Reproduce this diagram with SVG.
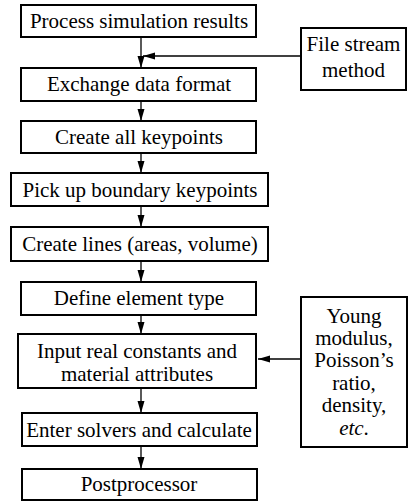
<svg xmlns="http://www.w3.org/2000/svg" width="411" height="502" viewBox="0 0 411 502">
<style>
.box{fill:#fff;stroke:#000;stroke-width:2}
.t{font-family:"Liberation Serif","Times New Roman",serif;font-size:21px;fill:#000;text-anchor:middle}
.c{stroke:#000;stroke-width:1.3;fill:none}
</style>
<defs>
<marker id="ah" markerUnits="userSpaceOnUse" markerWidth="12" markerHeight="8" refX="12" refY="3.5" orient="auto">
<path d="M0,0 L12,3.5 L0,7 z" fill="#000"/>
</marker>
</defs>
<rect x="0" y="0" width="411" height="502" fill="#fff"/>
<g id="connectors">
<line class="c" x1="141" y1="37" x2="141" y2="68" marker-end="url(#ah)"/>
<line class="c" x1="300" y1="56" x2="143" y2="56" marker-end="url(#ah)"/>
<line class="c" x1="141" y1="101" x2="141" y2="121" marker-end="url(#ah)"/>
<line class="c" x1="141" y1="153" x2="141" y2="173" marker-end="url(#ah)"/>
<line class="c" x1="141" y1="206" x2="141" y2="227" marker-end="url(#ah)"/>
<line class="c" x1="141" y1="261" x2="141" y2="282" marker-end="url(#ah)"/>
<line class="c" x1="141" y1="315" x2="141" y2="334" marker-end="url(#ah)"/>
<line class="c" x1="141" y1="388" x2="141" y2="413" marker-end="url(#ah)"/>
<line class="c" x1="141" y1="446" x2="141" y2="469" marker-end="url(#ah)"/>
<line class="c" x1="300" y1="359" x2="258" y2="359" marker-end="url(#ah)"/>
</g>
<g id="n1"><rect class="box" x="21" y="5" width="235" height="32"/><text class="t" x="139" y="28">Process simulation results</text></g>
<g id="n2"><rect class="box" x="21" y="68" width="235" height="33"/><text class="t" x="139" y="91">Exchange data format</text></g>
<g id="n3"><rect class="box" x="21" y="121" width="235" height="32"/><text class="t" x="139" y="144">Create all keypoints</text></g>
<g id="n4"><rect class="box" x="11" y="173" width="257" height="33"/><text class="t" x="140" y="197">Pick up boundary keypoints</text></g>
<g id="n5"><rect class="box" x="11" y="227" width="257" height="34"/><text class="t" x="140" y="251">Create lines (areas, volume)</text></g>
<g id="n6"><rect class="box" x="21" y="282" width="235" height="33"/><text class="t" x="139" y="305">Define element type</text></g>
<g id="n7"><rect class="box" x="18" y="334" width="238" height="54"/><text class="t" x="137" y="358">Input real constants and</text><text class="t" x="137" y="381">material attributes</text></g>
<g id="n8"><rect class="box" x="22" y="413" width="235" height="33"/><text class="t" x="139" y="437">Enter solvers and calculate</text></g>
<g id="n9"><rect class="box" x="22" y="469" width="235" height="31"/><text class="t" x="139" y="491">Postprocessor</text></g>
<g id="file"><rect class="box" x="301" y="28" width="105" height="62"/><text class="t" x="353.5" y="51">File stream</text><text class="t" x="353.5" y="77">method</text></g>
<g id="young"><rect class="box" x="301" y="297" width="106" height="150"/>
<text class="t" x="354" y="323">Young</text>
<text class="t" x="354" y="345">modulus,</text>
<text class="t" x="354" y="367">Poisson’s</text>
<text class="t" x="354" y="390">ratio,</text>
<text class="t" x="354" y="412">density,</text>
<text class="t" x="354" y="435"><tspan font-style="italic">etc</tspan>.</text>
</g>
</svg>
